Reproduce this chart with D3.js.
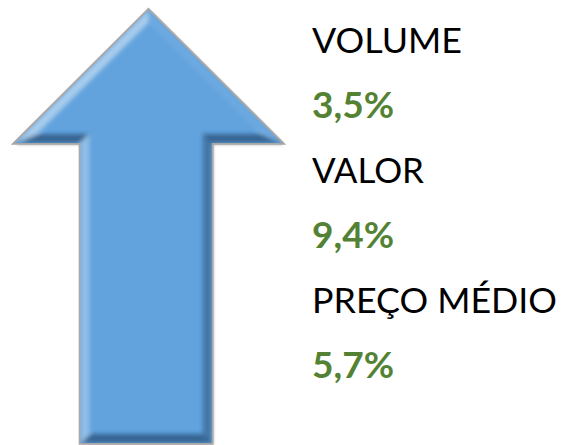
<!DOCTYPE html>
<html>
<head>
<meta charset="utf-8">
<script src="https://cdn.jsdelivr.net/npm/d3@7"></script>
<style>
  html, body { margin: 0; padding: 0; background: #fff; }
  svg { display: block; }
</style>
</head>
<body>
<script>
"use strict";

// indicator names and their growth (in %)
var labels = ["VOLUME", "VALOR", "PREÇO MÉDIO"];
var values = [3.5, 9.4, 5.7];

var WIDTH = 564, HEIGHT = 445;

var svg = d3.select("body").append("svg")
    .attr("width", WIDTH)
    .attr("height", HEIGHT);

var defs = svg.append("defs");

// ---- the arrow ----
// arrow shape in unit space (0..1), mapped to pixels by two scales
var x = d3.scaleLinear().domain([0, 1]).range([15, 282]);
var y = d3.scaleLinear().domain([0, 1]).range([10, 443]);
var head = 0.307, shaftL = 0.245, shaftR = 0.737;

var arrowPts = [
    [x(0.5), y(0)],
    [x(1), y(head)],
    [x(shaftR), y(head)],
    [x(shaftR), y(1)],
    [x(shaftL), y(1)],
    [x(shaftL), y(head)],
    [x(0), y(head)]
];

// offset a closed polygon inwards by d (points are clockwise on screen)
var insetPolygon = function(pts, d)
{
    var n = pts.length, lines = [];
    for (var i = 0; i < n; i++)
    {
        var a = pts[i], b = pts[(i + 1) % n];
        var dx = b[0] - a[0], dy = b[1] - a[1], len = Math.hypot(dx, dy);
        // inward normal for clockwise screen polygon
        var nx = -dy / len, ny = dx / len;
        lines.push({ p: [a[0] + nx * d, a[1] + ny * d], v: [dx, dy], n: [-nx, -ny] });
    }
    var out = [];
    for (var i = 0; i < n; i++)
    {
        var l1 = lines[(i - 1 + n) % n], l2 = lines[i];
        var det = l1.v[0] * l2.v[1] - l1.v[1] * l2.v[0];
        var t = ((l2.p[0] - l1.p[0]) * l2.v[1] - (l2.p[1] - l1.p[1]) * l2.v[0]) / det;
        out.push([l1.p[0] + l1.v[0] * t, l1.p[1] + l1.v[1] * t]);
    }
    return { pts: out, normals: lines.map(function(l) { return l.n; }) };
};

var line = d3.line().curve(d3.curveLinearClosed);
var arrowPath = line(arrowPts);

defs.append("clipPath").attr("id", "arrowClip")
    .append("path").attr("d", arrowPath);

var blur = defs.append("filter").attr("id", "soft")
    .attr("x", "-10%").attr("y", "-10%").attr("width", "120%").attr("height", "120%");
blur.append("feGaussianBlur").attr("stdDeviation", 2.2);

var shadow = defs.append("filter").attr("id", "shadow")
    .attr("x", "-10%").attr("y", "-10%").attr("width", "120%").attr("height", "120%");
shadow.append("feGaussianBlur").attr("stdDeviation", 1.5);

// shadow / grey rim round the arrow
svg.append("path")
    .attr("d", arrowPath)
    .attr("transform", "translate(1.5,1.5)")
    .attr("fill", "#555")
    .attr("opacity", 0.55)
    .attr("filter", "url(#shadow)");

svg.append("path")
    .attr("d", arrowPath)
    .attr("fill", "none")
    .attr("stroke", "#a8a8a8")
    .attr("stroke-width", 3.5)
    .attr("stroke-linejoin", "miter");

var arrowG = svg.append("g").attr("clip-path", "url(#arrowClip)");

arrowG.append("path")
    .attr("d", arrowPath)
    .attr("fill", "#62a3de");

// bevel: one quad per edge, lit from the top left
var inner = insetPolygon(arrowPts, 9);
var light = [-0.6, -0.8];
var bevelG = arrowG.append("g").attr("filter", "url(#soft)");

d3.range(arrowPts.length).forEach(function(i)
{
    var j = (i + 1) % arrowPts.length;
    var nrm = inner.normals[i];
    var shade = nrm[0] * light[0] + nrm[1] * light[1];
    var quad = [arrowPts[i], arrowPts[j], inner.pts[j], inner.pts[i]];
    bevelG.append("path")
        .attr("d", line(quad))
        .attr("fill", shade > 0 ? "#ffffff" : "#12355a")
        .attr("opacity", shade > 0 ? Math.min(0.45, shade * 0.5) : Math.min(0.6, -shade * 0.7));
});

// ---- texts ----
var rows = [];
labels.forEach(function(l, i)
{
    rows.push({ text: l, kind: "label" });
    rows.push({ text: d3.format(".1f")(values[i]).replace(".", ",") + "%", kind: "value" });
});

var rowY = d3.scalePoint()
    .domain(d3.range(rows.length))
    .range([53, 378]);

var textX = 312;
var widths = { "VOLUME": 150, "VALOR": 112, "PREÇO MÉDIO": 245 };

svg.append("g").selectAll("text")
    .data(rows)
    .enter()
    .append("text")
    .attr("x", textX)
    .attr("y", function(d, i) { return rowY(i); })
    .attr("font-family", "Lato, 'Open Sans', sans-serif")
    .attr("font-size", function(d) { return d.kind == "label" ? 34 : 37; })
    .attr("font-weight", function(d) { return d.kind == "label" ? 400 : 700; })
    .attr("fill", function(d) { return d.kind == "label" ? "#000000" : "#548235"; })
    .attr("textLength", function(d) { return d.kind == "label" ? widths[d.text] : 82; })
    .attr("lengthAdjust", "spacingAndGlyphs")
    .text(function(d) { return d.text; });
</script>
</body>
</html>
